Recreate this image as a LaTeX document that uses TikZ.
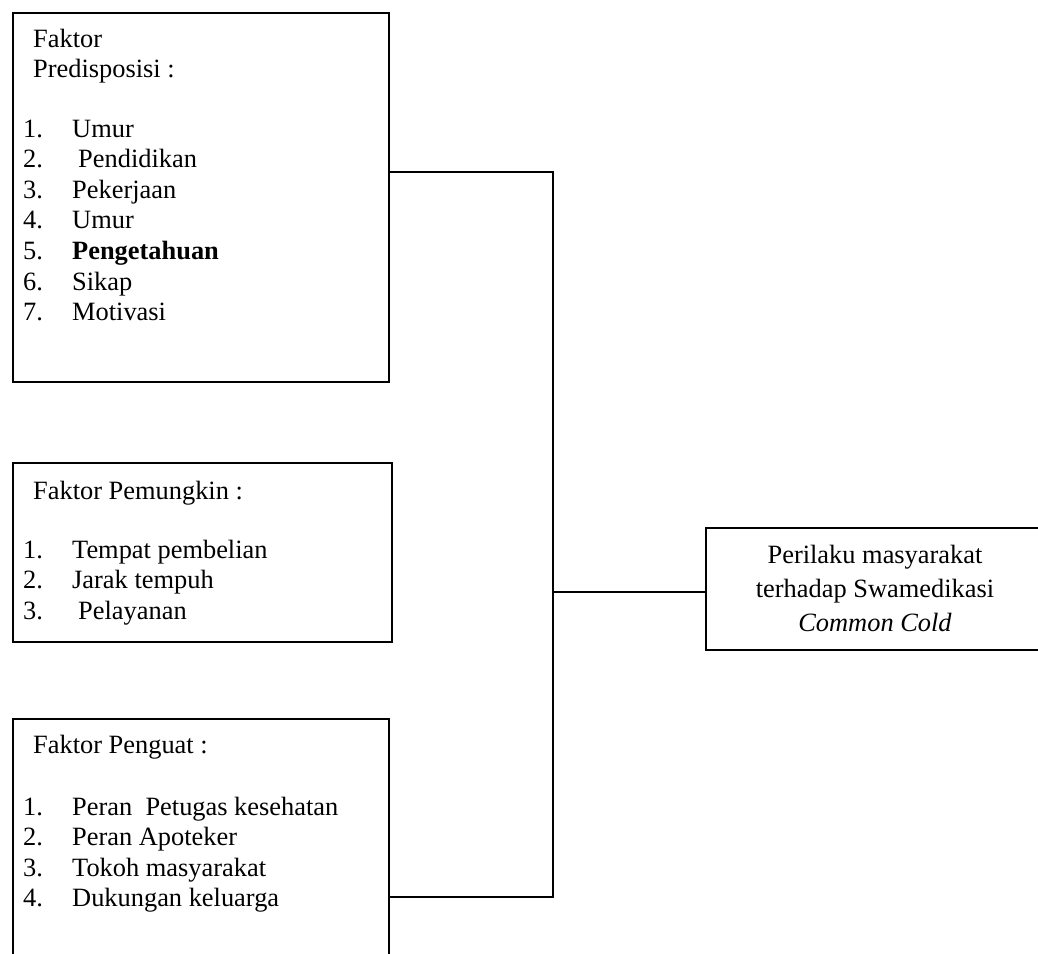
\documentclass[tikz,border=0pt]{standalone}
\usepackage{fontspec}
\setmainfont{Liberation Serif}
\begin{document}
\begin{tikzpicture}[x=1pt,y=-1pt,
  every node/.style={font=\fontsize{26.4pt}{30.6pt}\selectfont},
  box/.style={draw, line width=2pt, rectangle, inner sep=0pt, anchor=north west},
  txt/.style={anchor=base west, inner sep=0pt},
  ctxt/.style={anchor=base, inner sep=0pt},
  wire/.style={line width=2pt}]
\path[use as bounding box, clip] (0,0) rectangle (1038,953);
\fill[white] (0,0) rectangle (1038,953);
% boxes
\node[box, minimum width=376pt, minimum height=369pt] (b1) at (12,12) {};
\node[box, minimum width=379pt, minimum height=179pt] (b2) at (12,462) {};
\node[box, minimum width=376pt, minimum height=250pt] (b3) at (12,718) {};
\node[box, minimum width=340pt, minimum height=122pt] (out) at (705,527) {};
% box 1 text
\node[txt] (h1a) at (33,47) {Faktor};
\node[txt] (h1b) at (33,77) {Predisposisi :};
\node[txt] (n11) at (23,137) {1.}; \node[txt] (i11) at (72,137) {Umur};
\node[txt] (n12) at (23,167.6) {2.}; \node[txt] (i12) at (78,167.6) {Pendidikan};
\node[txt] (n13) at (23,198.2) {3.}; \node[txt] (i13) at (72,198.2) {Pekerjaan};
\node[txt] (n14) at (23,228.8) {4.}; \node[txt] (i14) at (72,228.8) {Umur};
\node[txt] (n15) at (23,259.4) {5.}; \node[txt] (i15) at (72,259.4) {\bfseries Pengetahuan};
\node[txt] (n16) at (23,290) {6.}; \node[txt] (i16) at (72,290) {Sikap};
\node[txt] (n17) at (23,320.6) {7.}; \node[txt] (i17) at (72,320.6) {Motivasi};
% box 2 text
\node[txt] (h2) at (33,499) {Faktor Pemungkin :};
\node[txt] (n21) at (23,558) {1.}; \node[txt] (i21) at (72,558) {Tempat pembelian};
\node[txt] (n22) at (23,588.5) {2.}; \node[txt] (i22) at (72,588.5) {Jarak tempuh};
\node[txt] (n23) at (23,619) {3.}; \node[txt] (i23) at (78,619) {Pelayanan};
% box 3 text
\node[txt] (h3) at (33,753) {Faktor Penguat :};
\node[txt] (n31) at (23,815) {1.}; \node[txt] (i31) at (72,815) {Peran\ \ Petugas kesehatan};
\node[txt] (n32) at (23,845.5) {2.}; \node[txt] (i32) at (72,845.5) {Peran Apoteker};
\node[txt] (n33) at (23,876) {3.}; \node[txt] (i33) at (72,876) {Tokoh masyarakat};
\node[txt] (n34) at (23,906.5) {4.}; \node[txt] (i34) at (72,906.5) {Dukungan keluarga};
% output box text
\node[ctxt] (o1) at (875,563) {Perilaku masyarakat};
\node[ctxt] (o2) at (875,597) {terhadap Swamedikasi};
\node[ctxt] (o3) at (875,631) {\itshape Common Cold};
% connectors
\coordinate (j1) at (553,172);
\coordinate (j2) at (553,592);
\coordinate (j3) at (553,897);
\draw[wire] (b1.east |- j1) -- (j1) -- (j3) -- (b3.east |- j3);
\draw[wire] (j2) -- (out.west |- j2);
\end{tikzpicture}
\end{document}
